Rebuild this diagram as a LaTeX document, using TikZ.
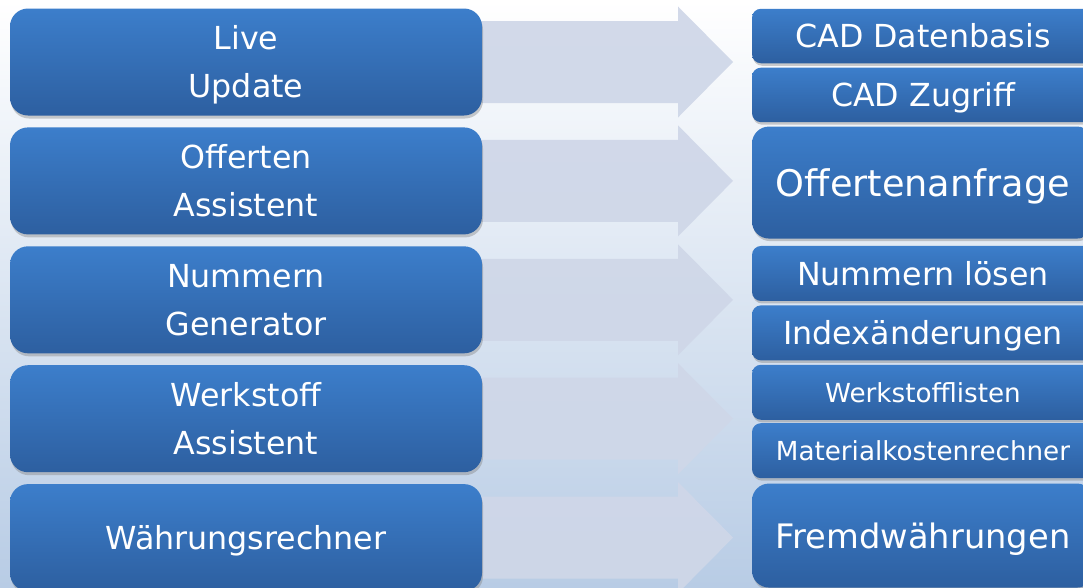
\documentclass[tikz,border=0pt]{standalone}
\usepackage{fontspec}
\newfontfamily\boxfont{DejaVu Sans}
\usepackage{tikz}
\usetikzlibrary{positioning,shadows}
\definecolor{boxtop}{RGB}{60,126,203}
\definecolor{boxbot}{RGB}{45,95,160}
\definecolor{flowfill}{RGB}{207,215,232}
\definecolor{bgblue}{RGB}{184,204,229}
\pgfdeclarelayer{bg}
\pgfdeclarelayer{flows}
\pgfsetlayers{bg,flows,main}
\newcommand{\bstr}{\rule[-0.2em]{0pt}{1.15em}}
\tikzstyle{lbox} = [rectangle, rounded corners=18pt, top color=boxtop, bottom color=boxbot, text=white, align=center, inner sep=0pt, minimum width=472pt, minimum height=107pt, font=\boxfont\fontsize{31.7}{48}\selectfont, drop shadow={shadow xshift=1pt, shadow yshift=-3pt, opacity=0.4}]
\tikzstyle{rbox} = [rectangle, rounded corners=9pt, top color=boxtop, bottom color=boxbot, text=white, align=center, inner sep=0pt, minimum width=342pt, minimum height=54.5pt, font=\boxfont\fontsize{31.7}{40}\selectfont, drop shadow={shadow xshift=1pt, shadow yshift=-2.5pt, opacity=0.4}]
\tikzstyle{flow} = [fill=flowfill, opacity=0.93]

\begin{document}
\begin{tikzpicture}[x=1pt, y=1pt]

\useasboundingbox (0,0) rectangle (1083,-587);

% background =============================
\begin{pgfonlayer}{bg}
\shade[top color=white, bottom color=bgblue] (0,0) rectangle (1083,-587);
\end{pgfonlayer}

% left column
\node[lbox] (live) at (246,-62) {\bstr Live\\\bstr Update};
\node[lbox, below=11.5pt of live] (offerten) {\bstr Offerten\\\bstr Assistent};
\node[lbox, below=11.5pt of offerten] (nummern) {\bstr Nummern\\\bstr Generator};
\node[lbox, below=11.5pt of nummern] (werkstoff) {\bstr Werkstoff\\\bstr Assistent};
\node[lbox, below=11.5pt of werkstoff] (waehrung) {\bstr Währungsrechner};

% right column
\node[rbox] (cadbasis) at (923,-36) {\bstr CAD Datenbasis};
\node[rbox, below=4pt of cadbasis] (cadzugriff) {\bstr CAD Zugriff};
\node[rbox, below=4pt of cadzugriff, minimum height=112pt, rounded corners=17pt, font=\boxfont\fontsize{36.7}{44}\selectfont] (anfrage) {\bstr Offertenanfrage};
\node[rbox, below=7pt of anfrage, minimum height=55pt] (loesen) {\bstr Nummern lösen};
\node[rbox, below=4pt of loesen, minimum height=55pt] (index) {\bstr Indexänderungen};
\node[rbox, below=4pt of index, minimum height=55pt, font=\boxfont\fontsize{26.2}{32}\selectfont] (listen) {\bstr Werkstofflisten};
\node[rbox, below=3pt of listen, minimum height=55pt, font=\boxfont\fontsize{26.2}{32}\selectfont] (kosten) {\bstr Materialkostenrechner};
\node[rbox, below=5pt of kosten, minimum height=104pt, rounded corners=17pt, font=\boxfont\fontsize{33.7}{40}\selectfont] (fremd) {\bstr Fremdwährungen};

% block arrows left to right
\begin{pgfonlayer}{flows}
\fill[flow] (live.center) ++(0,41) -- ++(432,0) -- ++(0,14.5) -- ++(55,-55.5) -- ++(-55,-55.5) -- ++(0,14.5) -- ++(-432,0) -- cycle;
\fill[flow] (offerten.center) ++(0,41) -- ++(432,0) -- ++(0,14.5) -- ++(55,-55.5) -- ++(-55,-55.5) -- ++(0,14.5) -- ++(-432,0) -- cycle;
\fill[flow] (nummern.center) ++(0,41) -- ++(432,0) -- ++(0,14.5) -- ++(55,-55.5) -- ++(-55,-55.5) -- ++(0,14.5) -- ++(-432,0) -- cycle;
\fill[flow] (werkstoff.center) ++(0,41) -- ++(432,0) -- ++(0,14.5) -- ++(55,-55.5) -- ++(-55,-55.5) -- ++(0,14.5) -- ++(-432,0) -- cycle;
\fill[flow] (waehrung.center) ++(0,41) -- ++(432,0) -- ++(0,14.5) -- ++(55,-55.5) -- ++(-55,-55.5) -- ++(0,14.5) -- ++(-432,0) -- cycle;
\end{pgfonlayer}

\end{tikzpicture}
\end{document}
